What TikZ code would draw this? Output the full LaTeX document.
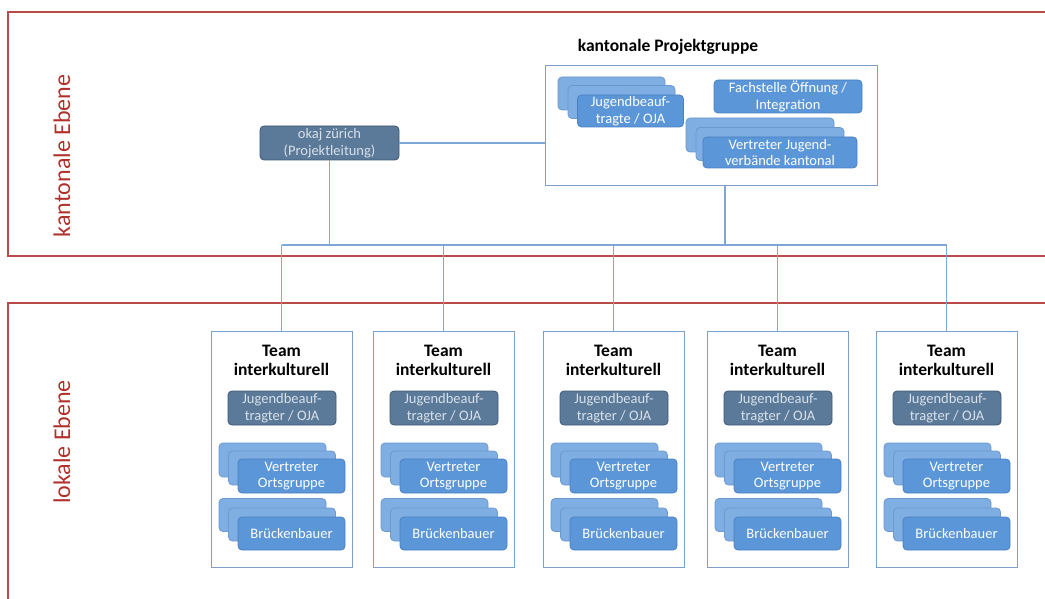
\documentclass[tikz,border=0pt]{standalone}
\usepackage{fontspec}
\setmainfont{Carlito}
\definecolor{redline}{HTML}{B84A48}
\definecolor{redtext}{HTML}{B0302C}
\definecolor{cont}{HTML}{7C9FCB}
\definecolor{conn}{HTML}{7EA6D6}
\definecolor{fblue}{HTML}{5A96D8}
\definecolor{fedge}{HTML}{4A80C2}
\definecolor{bblue}{HTML}{7FAEE2}
\definecolor{dfill}{HTML}{5B7A99}
\definecolor{dedge}{HTML}{3E5873}
\definecolor{dtext}{HTML}{D8E0EA}
\tikzset{
  level/.style={draw=redline, line width=1.3pt},
  leveltext/.style={text=redtext, rotate=90, font=\fontsize{24}{27}\selectfont},
  container/.style={draw=cont, line width=1pt, fill=white, inner sep=0pt},
  conline/.style={draw=conn, line width=1.3pt},
  ibox/.style={rounded corners=4pt, line width=0.8pt, inner sep=0pt, align=center,
    font=\fontsize{14.5}{16.5}\selectfont},
  fbox/.style={ibox, fill=fblue, draw=fedge, text=white},
  bbox/.style={ibox, fill=bblue, draw=fedge!80},
  dbox/.style={ibox, fill=dfill, draw=dedge, text=dtext},
  heading/.style={font=\bfseries\fontsize{17.5}{19.5}\selectfont, align=center, inner sep=0pt},
}
\begin{document}
\begin{tikzpicture}[x=1pt,y=-1pt]
\useasboundingbox (0,0) rectangle (1045,599);
\clip (0,0) rectangle (1045,599);
% level frames
\draw[level] (1060,12) -- (8,12) -- (8,256) -- (1060,256);
\draw[level] (1060,303) -- (8,303) -- (8,620);
\node[leveltext] (lk) at (62,156) {kantonale Ebene};
\node[leveltext] (ll) at (62,442) {lokale Ebene};

% kantonale Projektgruppe
\node[heading] (pgt) at (668,47) {kantonale Projektgruppe};
\node[container, minimum width=332pt, minimum height=120pt] (pg) at (711,126) {};
\node[bbox, minimum width=107pt, minimum height=33pt] (pj1) at (611.5,93.5) {};
\node[bbox, minimum width=107pt, minimum height=33pt] (pj2) at (621.5,102) {};
\node[fbox, minimum width=106pt, minimum height=32pt] (pj3) at (630.5,111) {Jugendbeauf-\\tragte / OJA};
\node[fbox, minimum width=148pt, minimum height=33pt] (fs) at (788,96.5) {Fachstelle Öffnung /\\Integration};
\node[bbox, minimum width=148pt, minimum height=34pt] (pv1) at (760,135) {};
\node[bbox, minimum width=148pt, minimum height=33pt] (pv2) at (770,144) {};
\node[fbox, minimum width=154pt, minimum height=31pt] (pv3) at (780,152.5) {Vertreter Jugend-\\verbände kantonal};

% okaj
\node[dbox, minimum width=139pt, minimum height=34pt] (okaj) at (329.5,143) {okaj zürich\\(Projektleitung)};
\draw[conline] (okaj.east) -- (pg.west |- okaj.east);

% bus
\coordinate (bl) at (281.5,245);
\coordinate (br) at (946.5,245);
\coordinate (bo) at (329.5,245);
\coordinate (bp) at (725,245);
\draw[conline] (bl) -- (br);
\draw[conline] (okaj.south) -- (bo);
\draw[conline] (pg.south -| bp) -- (bp);

% teams
\foreach \L [count=\i] in {211,373,543,707,876} {
  \node[container, minimum width=141pt, minimum height=236pt] (t\i) at (\L+70.5,449) {};
  \coordinate (b\i) at (\L+70.5,245);
  \draw[conline] (b\i) -- (t\i.north);
  \node[heading] (th\i) at (\L+70.5,360.5) {Team\\interkulturell};
  \node[dbox, minimum width=108pt, minimum height=34pt] (tj\i) at (\L+71,408) {Jugendbeauf-\\tragter / OJA};
  \node[bbox, minimum width=107pt, minimum height=34pt] (va\i) at (\L+61.5,460) {};
  \node[bbox, minimum width=107pt, minimum height=34pt] (vb\i) at (\L+71,468) {};
  \node[fbox, minimum width=107pt, minimum height=34pt] (vc\i) at (\L+80.5,476) {Vertreter\\Ortsgruppe};
  \node[bbox, minimum width=107pt, minimum height=33pt] (ba\i) at (\L+61.5,515) {};
  \node[bbox, minimum width=107pt, minimum height=33pt] (bb\i) at (\L+71,524.5) {};
  \node[fbox, minimum width=107pt, minimum height=33pt] (bc\i) at (\L+80.5,533.5) {Brückenbauer};
}
\end{tikzpicture}
\end{document}
